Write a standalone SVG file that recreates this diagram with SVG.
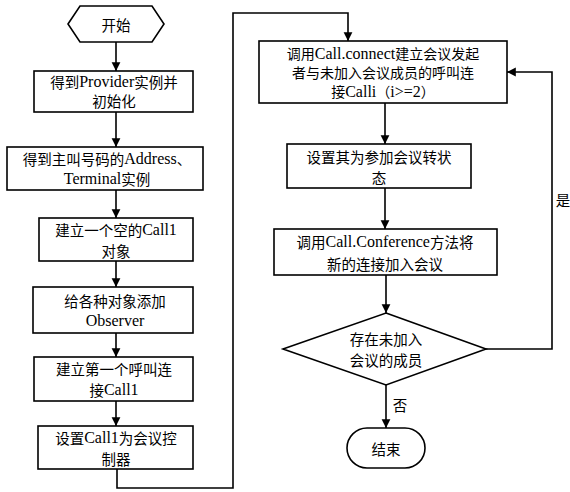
<svg xmlns="http://www.w3.org/2000/svg" width="570" height="492" viewBox="0 0 570 492">
<style>
.s{fill:#fff;stroke:#000;stroke-width:1.6}
.c{fill:none;stroke:#000;stroke-width:1.6}
text{font-family:"Noto Sans CJK SC",sans-serif;font-size:14.5px;fill:#000;text-anchor:middle;dominant-baseline:central}
.l{font-family:"Liberation Serif",serif;font-size:16px}
.t{font-size:14px}
</style>
<defs>
<marker id="a" viewBox="0 0 10 10" refX="10" refY="5" markerWidth="5.5" markerHeight="7" markerUnits="strokeWidth" orient="auto">
<path d="M0,0 L10,5 L0,10 z" fill="#000"/>
</marker>
</defs>
<rect width="570" height="492" fill="#fff"/>
<g id="connectors">
<line class="c" x1="116" y1="42" x2="116" y2="71" marker-end="url(#a)"/>
<line class="c" x1="116" y1="112" x2="116" y2="147" marker-end="url(#a)"/>
<line class="c" x1="116" y1="190" x2="116" y2="218" marker-end="url(#a)"/>
<line class="c" x1="116" y1="261" x2="116" y2="287" marker-end="url(#a)"/>
<line class="c" x1="116" y1="333" x2="116" y2="357" marker-end="url(#a)"/>
<line class="c" x1="116" y1="401" x2="116" y2="426" marker-end="url(#a)"/>
<polyline class="c" points="117,469 117,488 233,488 233,13 348,13 348,41" marker-end="url(#a)"/>
<line class="c" x1="385" y1="103" x2="385" y2="144" marker-end="url(#a)"/>
<line class="c" x1="385" y1="188" x2="385" y2="229" marker-end="url(#a)"/>
<line class="c" x1="386" y1="275" x2="386" y2="313" marker-end="url(#a)"/>
<line class="c" x1="386" y1="385" x2="386" y2="428" marker-end="url(#a)"/>
<polyline class="c" points="486,349 552,349 552,72 507,72" marker-end="url(#a)"/>
<text x="563" y="199">是</text>
<text x="400" y="404">否</text>
</g>
<g id="start">
<polygon class="s" points="68,24 80,6 152,6 164,24 152,42 80,42"/>
<text x="116" y="24">开始</text>
</g>
<g id="n1">
<rect class="s" x="34" y="71" width="159" height="41"/>
<text x="114" y="81">得到<tspan class="l">Provider</tspan>实例并</text>
<text x="114" y="100">初始化</text>
</g>
<g id="n2">
<rect class="s" x="7" y="147" width="196" height="43"/>
<text x="107" y="158">得到主叫号码的<tspan class="l">Address</tspan>、</text>
<text x="107" y="178"><tspan class="l">Terminal</tspan>实例</text>
</g>
<g id="n3">
<rect class="s" x="39" y="218" width="154" height="43"/>
<text x="116" y="229">建立一个空的<tspan class="l">Call1</tspan></text>
<text x="116" y="250">对象</text>
</g>
<g id="n4">
<rect class="s" x="33" y="287" width="160" height="46"/>
<text x="115" y="300">给各种对象添加</text>
<text x="115" y="320" class="l">Observer</text>
</g>
<g id="n5">
<rect class="s" x="34" y="357" width="159" height="44"/>
<text x="114" y="368">建立第一个呼叫连</text>
<text x="114" y="389">接<tspan class="l">Call1</tspan></text>
</g>
<g id="n6">
<rect class="s" x="38" y="426" width="155" height="43"/>
<text x="116" y="437">设置<tspan class="l">Call1</tspan>为会议控</text>
<text x="116" y="458">制器</text>
</g>
<g id="n7">
<rect class="s" x="259" y="41" width="248" height="62"/>
<text class="t" x="383" y="53">调用<tspan class="l">Call.connect</tspan>建立会议发起</text>
<text class="t" x="383" y="72">者与未加入会议成员的呼叫连</text>
<text class="t" x="383" y="91">接<tspan class="l">Calli</tspan>（<tspan class="l">i&gt;=2</tspan>）</text>
</g>
<g id="n8">
<rect class="s" x="287" y="144" width="184" height="44"/>
<text x="379" y="156">设置其为参加会议转状</text>
<text x="379" y="177">态</text>
</g>
<g id="n9">
<rect class="s" x="274" y="229" width="223" height="46"/>
<text x="385" y="241">调用<tspan class="l">Call.Conference</tspan>方法将</text>
<text x="385" y="263">新的连接加入会议</text>
</g>
<g id="d1">
<polygon class="s" points="386,313 486,349 386,385 283,349"/>
<text x="386" y="338">存在未加入</text>
<text x="386" y="359">会议的成员</text>
</g>
<g id="end">
<rect class="s" x="347" y="428" width="78" height="40" rx="20" ry="20"/>
<text x="386" y="448">结束</text>
</g>
</svg>
